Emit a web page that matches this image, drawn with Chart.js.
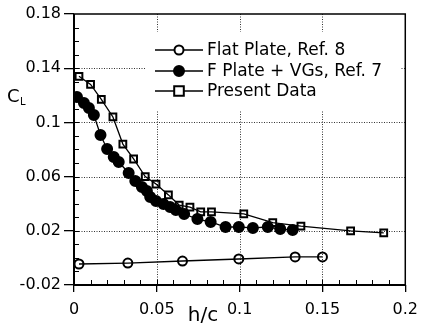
<!DOCTYPE html>
<html>
<head>
<meta charset="utf-8">
<script src="https://cdn.jsdelivr.net/npm/chart.js@4"></script>
<style>
  html, body { margin: 0; padding: 0; background: #fff; }
  #c { display: block; }
</style>
</head>
<body>
<canvas id="c" width="426" height="328"></canvas>
<script>
// values
const flatX = [0.003, 0.0325, 0.0655, 0.0995, 0.1335, 0.15];
const flatY = [-0.0045, -0.0038, -0.0023, -0.0008, 0.0007, 0.0007];

const vgX = [0.0018, 0.006, 0.009, 0.012, 0.016, 0.020, 0.024, 0.027, 0.033, 0.037, 0.041, 0.044, 0.046,
             0.0495, 0.054, 0.058, 0.0615, 0.0665, 0.0745, 0.0825, 0.0915, 0.0995, 0.108, 0.117, 0.1245, 0.132];
const vgY = [0.1187, 0.1143, 0.1106, 0.1055, 0.0907, 0.0804, 0.0745, 0.0708, 0.0627, 0.0568, 0.0523, 0.0494, 0.0449,
             0.042, 0.0398, 0.0376, 0.0354, 0.0324, 0.0287, 0.0265, 0.0228, 0.0228, 0.0221, 0.0228, 0.0213, 0.0206];

const presentX = [0.003, 0.010, 0.0165, 0.0235, 0.0295, 0.036, 0.043, 0.0495, 0.057, 0.0635, 0.070, 0.0765,
                  0.083, 0.1025, 0.12, 0.137, 0.167, 0.187];
const presentY = [0.134, 0.128, 0.117, 0.104, 0.084, 0.073, 0.060, 0.0545, 0.0465, 0.039, 0.0375, 0.034,
                  0.034, 0.0325, 0.026, 0.0235, 0.020, 0.0185];

const xTicks = [0, 0.05, 0.1, 0.15, 0.2];
const yTicks = [-0.02, 0.02, 0.06, 0.1, 0.14, 0.18];
const seriesNames = ['Flat Plate, Ref. 8', 'F Plate + VGs, Ref. 7', 'Present Data'];

const FONT = '"DejaVu Sans", sans-serif';

function pts(xs, ys) {
    return xs.map((x, i) => ({ x: x, y: ys[i] }));
}

function fmt(v) {
    return String(+v.toFixed(2));
}

// dotted grid, frame, inner ticks, legend box and axis titles
const decor = {
    id: 'decor',
    beforeDatasetsDraw(chart) {
        const { ctx, chartArea: a, scales: { x, y } } = chart;
        ctx.save();
        ctx.strokeStyle = '#333';
        ctx.lineWidth = 1;
        ctx.setLineDash([1, 1.5]);
        xTicks.slice(1, -1).forEach(v => {
            const px = Math.round(x.getPixelForValue(v)) + 0.5;
            ctx.beginPath(); ctx.moveTo(px, a.top); ctx.lineTo(px, a.bottom); ctx.stroke();
        });
        yTicks.slice(1, -1).forEach(v => {
            const py = Math.round(y.getPixelForValue(v)) + 0.5;
            ctx.beginPath(); ctx.moveTo(a.left, py); ctx.lineTo(a.right, py); ctx.stroke();
        });
        ctx.setLineDash([]);
        // legend background hides the grid
        ctx.fillStyle = '#fff';
        ctx.fillRect(146, 32, 254, 78);
        ctx.restore();
    },
    afterDatasetsDraw(chart) {
        const { ctx, chartArea: a, scales: { x, y } } = chart;
        ctx.save();
        ctx.strokeStyle = '#000';

        // inner ticks every 0.01
        ctx.lineWidth = 1;
        for (let i = 1; i < 20; i++) {
            const px = Math.round(x.getPixelForValue(i / 100)) + 0.5;
            ctx.beginPath(); ctx.moveTo(px, a.bottom); ctx.lineTo(px, a.bottom - 5); ctx.stroke();
        }
        for (let i = -1; i < 18; i++) {
            const py = Math.round(y.getPixelForValue(i / 100)) + 0.5;
            ctx.beginPath(); ctx.moveTo(a.left, py); ctx.lineTo(a.left + 5, py); ctx.stroke();
        }

        // frame
        ctx.lineWidth = 1.5;
        ctx.strokeRect(a.left, a.top, a.right - a.left, a.bottom - a.top);
        ctx.lineWidth = 2;
        ctx.beginPath();
        ctx.moveTo(a.left, a.top); ctx.lineTo(a.left, a.bottom); ctx.lineTo(a.right, a.bottom);
        ctx.stroke();

        // legend rows
        const rowsY = [50, 71, 91];
        chart.data.datasets.forEach((ds, i) => {
            const ly = rowsY[i];
            ctx.lineWidth = 1.3;
            ctx.strokeStyle = '#000';
            ctx.beginPath(); ctx.moveTo(155, ly); ctx.lineTo(203, ly); ctx.stroke();
            ctx.fillStyle = ds.pointBackgroundColor === '#000' ? '#000' : '#fff';
            ctx.lineWidth = ds.pointBorderWidth;
            ctx.beginPath();
            if (ds.pointStyle === 'rect') {
                const r = ds.pointRadius;
                ctx.rect(179 - r, ly - r, 2 * r, 2 * r);
            } else {
                ctx.arc(179, ly, ds.pointRadius, 0, Math.PI * 2);
            }
            ctx.fill(); ctx.stroke();
            ctx.fillStyle = '#000';
            ctx.font = '17px ' + FONT;
            ctx.textAlign = 'left';
            ctx.textBaseline = 'middle';
            ctx.fillText(ds.label, 207, ly + 1);
        });

        // axis titles
        ctx.fillStyle = '#000';
        ctx.textBaseline = 'alphabetic';
        ctx.textAlign = 'left';
        ctx.font = '18px ' + FONT;
        ctx.fillText('C', 7, 102);
        ctx.font = '10px ' + FONT;
        ctx.fillText('L', 20, 105);
        ctx.textAlign = 'center';
        ctx.font = '20px ' + FONT;
        ctx.fillText('h/c', 203, 321);
        ctx.restore();
    }
};

function loadChart() {
    const ctx = document.getElementById('c').getContext('2d');
    const common = {
        showLine: true,
        borderColor: '#000',
        borderWidth: 1.3,
        pointBorderColor: '#000',
        pointBorderWidth: 2,
        pointHoverRadius: 5
    };

    new Chart(ctx, {
        type: 'scatter',
        data: {
            datasets: [{
                ...common,
                label: seriesNames[0],
                data: pts(flatX, flatY),
                pointStyle: 'circle',
                pointRadius: 4.5,
                pointBackgroundColor: 'rgba(0,0,0,0)'
            }, {
                ...common,
                label: seriesNames[1],
                data: pts(vgX, vgY),
                pointStyle: 'circle',
                pointRadius: 5,
                pointBackgroundColor: '#000'
            }, {
                ...common,
                label: seriesNames[2],
                data: pts(presentX, presentY),
                pointStyle: 'rect',
                pointRadius: 4.8,
                pointBackgroundColor: 'rgba(0,0,0,0)'
            }]
        },
        options: {
            responsive: false,
            animation: false,
            devicePixelRatio: 1,
            layout: { padding: { top: 14, right: 13, left: 0, bottom: 0 } },
            plugins: {
                legend: { display: false },
                tooltip: { enabled: false }
            },
            scales: {
                x: {
                    type: 'linear',
                    min: 0,
                    max: 0.2,
                    afterBuildTicks: s => { s.ticks = xTicks.map(v => ({ value: v })); },
                    afterFit: s => { s.height = 43; },
                    ticks: {
                        callback: fmt,
                        color: '#000',
                        font: { family: FONT, size: 16 },
                        padding: 8,
                        maxRotation: 0,
                        autoSkip: false
                    },
                    grid: { drawOnChartArea: false, tickLength: 7, color: '#000', lineWidth: 1.3 },
                    border: { display: false }
                },
                y: {
                    type: 'linear',
                    min: -0.02,
                    max: 0.18,
                    afterBuildTicks: s => { s.ticks = yTicks.map(v => ({ value: v })); },
                    afterFit: s => { s.width = 74; },
                    ticks: {
                        callback: fmt,
                        color: '#000',
                        font: { family: FONT, size: 16 },
                        padding: 3,
                        autoSkip: false
                    },
                    grid: { drawOnChartArea: false, tickLength: 10, color: '#000', lineWidth: 1.3 },
                    border: { display: false }
                }
            }
        },
        plugins: [decor]
    });
}

document.addEventListener('DOMContentLoaded', loadChart);
</script>
</body>
</html>
